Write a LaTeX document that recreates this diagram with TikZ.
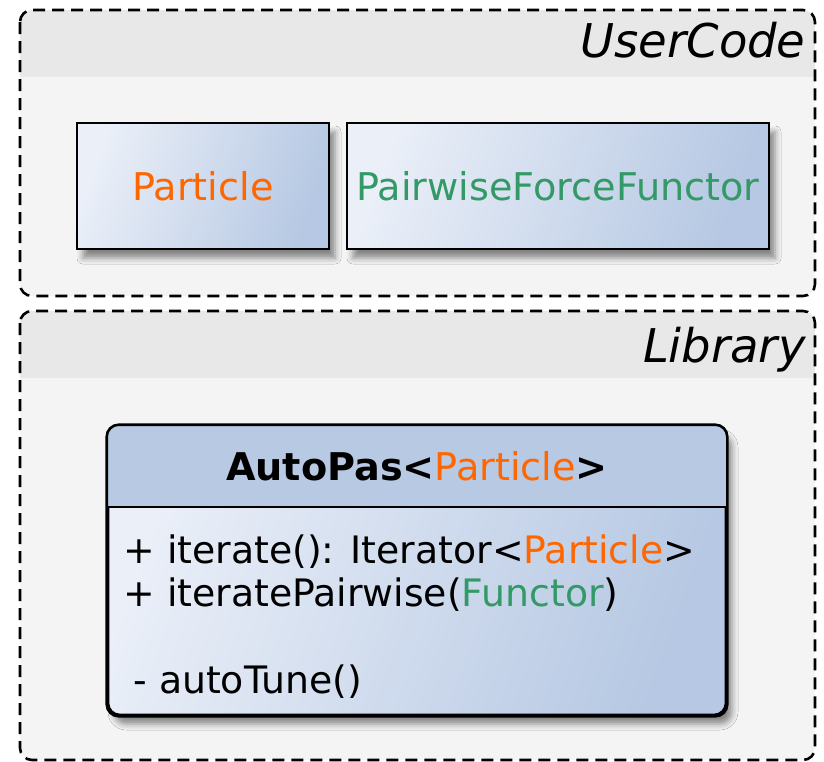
\documentclass[tikz,border=0pt]{standalone}
\usepackage{fontspec}
\setmainfont{DejaVu Sans}
\usepackage{xcolor}
\usetikzlibrary{shadows.blur}
\definecolor{pkghead}{RGB}{232,232,232}
\definecolor{pkgbody}{RGB}{244,244,244}
\definecolor{boxlight}{RGB}{234,239,248}
\definecolor{boxdark}{RGB}{182,200,227}
\definecolor{boxhead}{RGB}{184,201,227}
\definecolor{particlecol}{RGB}{255,102,0}
\definecolor{functorcol}{RGB}{51,153,102}
\tikzset{
	package/.style={
		draw=black,
		dash pattern=on 6pt off 3.5pt,
		line width=1.3pt,
		rounded corners=6pt
	},
	classbox/.style={
		draw=black,
		line width=1.3pt,
		top color=boxlight,
		bottom color=boxdark,
		shading angle=70,
		blur shadow={shadow xshift=3pt,shadow yshift=-4.5pt,shadow blur radius=3pt,shadow opacity=45},
		inner sep=0pt
	},
	pkglabel/.style={font=\fontsize{23.25pt}{28pt}\selectfont\itshape,anchor=base east,inner sep=0pt},
	classtext/.style={font=\fontsize{19.1pt}{22pt}\selectfont,inner sep=0pt},
	membertext/.style={classtext,font=\fontsize{18.9pt}{22pt}\selectfont,anchor=base west}
}

\begin{document}
\begin{tikzpicture}[x=0.5pt,y=-0.5pt]
	\useasboundingbox (0,0) rectangle (824,761);

	% (UserCode)
	\begin{scope}
		\clip[rounded corners=6pt] (20,10) rectangle (815,296);
		\fill[pkgbody] (20,10) rectangle (815,296);
		\fill[pkghead] (20,10) rectangle (815,77);
	\end{scope}
	\draw[package] (20,10) rectangle (815,296);
	\node[pkglabel] (usercode) at (806,57) {UserCode};
	\node[classbox,minimum width=126pt,minimum height=63pt] (particle) at (203,186) {};
	\node[classtext,text=particlecol] at (particle) {Particle};
	\node[classbox,minimum width=211pt,minimum height=63pt] (functor) at (558,186) {};
	\node[classtext,text=functorcol] at (functor) {PairwiseForceFunctor};

	% (Library)
	\begin{scope}
		\clip[rounded corners=6pt] (20,311) rectangle (815,760);
		\fill[pkgbody] (20,311) rectangle (815,760);
		\fill[pkghead] (20,311) rectangle (815,378);
	\end{scope}
	\draw[package] (20,311) rectangle (815,760);
	\node[pkglabel] (library) at (806,362) {Library};

	\node[classbox,rounded corners=6pt,minimum width=309pt,minimum height=144.5pt] (autopas) at (417,570.5) {};
	\begin{scope}
		\clip[rounded corners=6pt] (autopas.north west) rectangle (autopas.south east);
		\fill[boxhead] (autopas.north west) rectangle (autopas.east |- 0,507);
	\end{scope}
	\draw[line width=1.3pt] (autopas.west |- 0,507) -- (autopas.east |- 0,507);
	\draw[line width=1.3pt,rounded corners=6pt] (autopas.north west) rectangle (autopas.south east);
	\node[classtext,anchor=base] (title) at (417,480) {\bfseries AutoPas<\textcolor{particlecol}{\mdseries Particle}>};
	\node[membertext] (iterate) at (123,563) {+ iterate(): Iterator<\textcolor{particlecol}{Particle}>};
	\node[membertext] (pairwise) at (123,606) {+ iteratePairwise(\textcolor{functorcol}{Functor})};
	\node[membertext] (autotune) at (133,693) {- autoTune()};
\end{tikzpicture}
\end{document}
